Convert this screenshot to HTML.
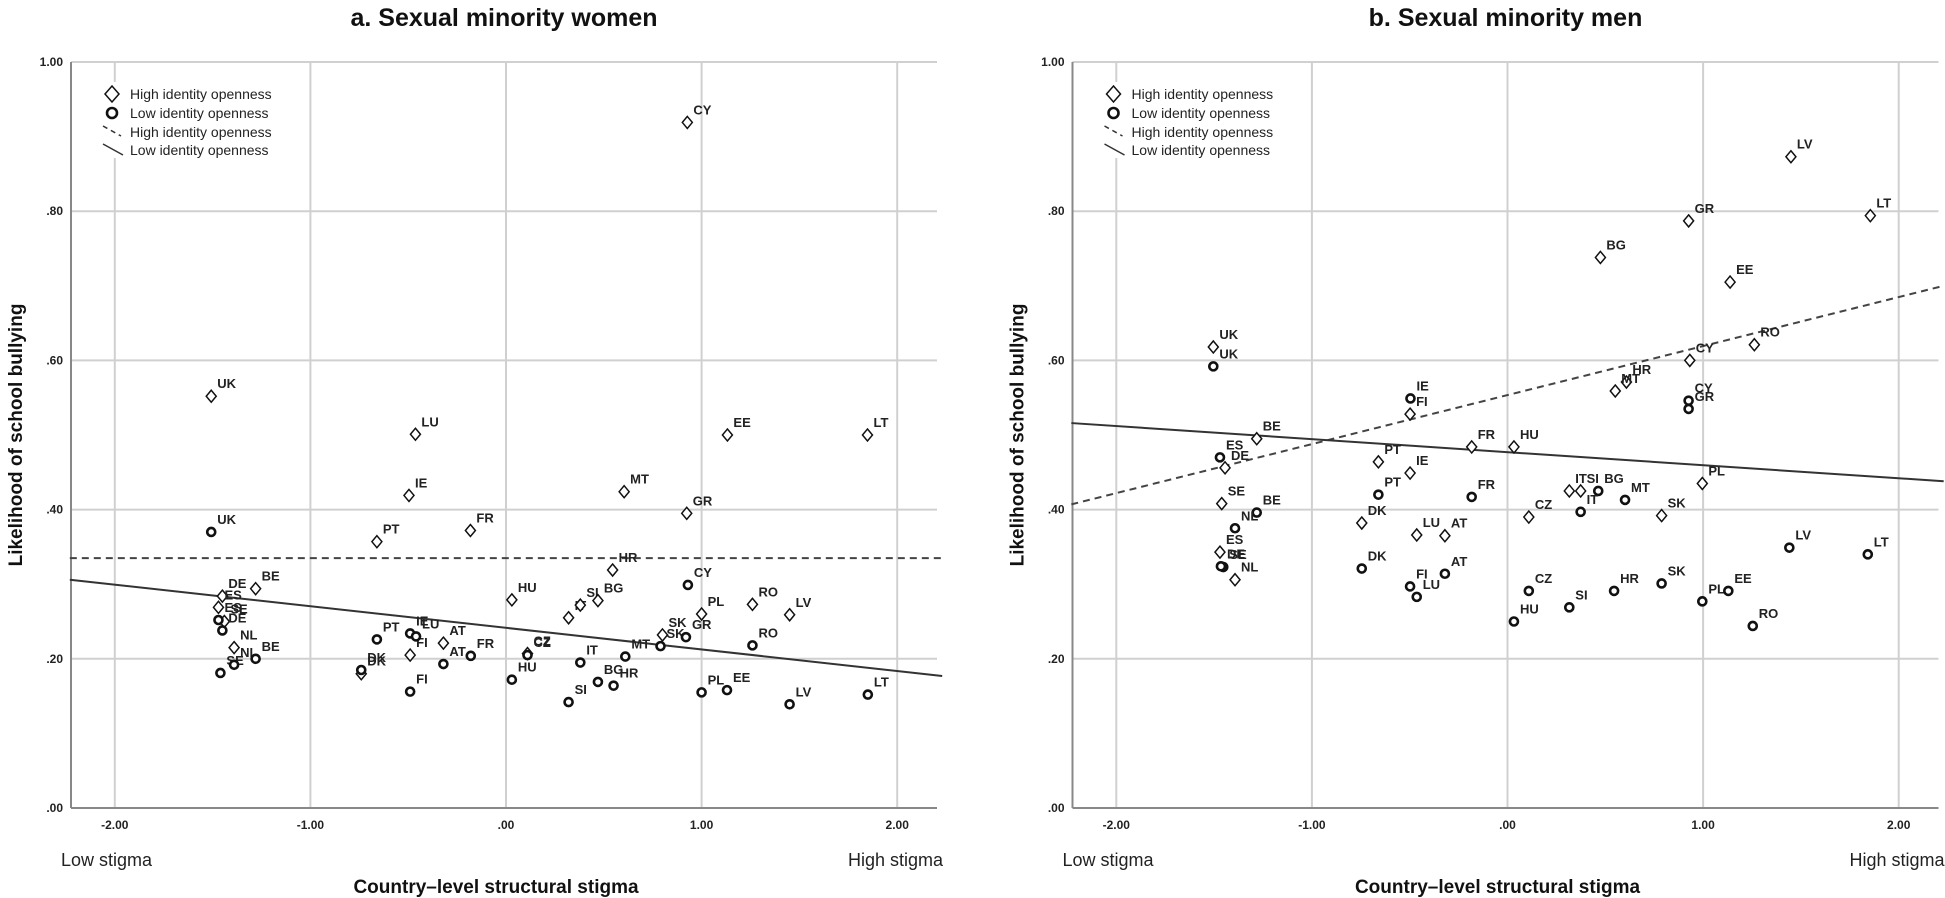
<!DOCTYPE html>
<html><head><meta charset="utf-8">
<style>
html,body{margin:0;padding:0;background:#fff;}
svg{display:block;font-family:"Liberation Sans",Arial,sans-serif;}
</style></head>
<body>
<svg id="chart" width="1945" height="898" viewBox="0 0 1945 898" xmlns="http://www.w3.org/2000/svg"></svg>
<script>
// ---- Data: panel a (women) ----
const womenHighCountries = ["UK","DE","BE","ES","SE","NL","PT","IE","LU","DK","FI","AT","FR","HU","CZ","IT","SI","BG","HR","MT","SK","CY","GR","PL","EE","RO","LV","LT"];
const womenHighStigma = [-1.507,-1.45,-1.28,-1.47,-1.44,-1.39,-0.66,-0.496,-0.463,-0.74,-0.49,-0.32,-0.182,0.03,0.11,0.32,0.38,0.47,0.545,0.604,0.80,0.927,0.924,1.0,1.132,1.26,1.45,1.848];
const womenHighValues = [0.552,0.284,0.294,0.269,0.250,0.215,0.357,0.419,0.501,0.180,0.205,0.221,0.372,0.279,0.207,0.255,0.272,0.278,0.319,0.424,0.232,0.919,0.395,0.260,0.500,0.273,0.259,0.500];
const womenLowCountries = ["UK","ES","DE","SE","NL","BE","PT","IE","LU","DK","FI","AT","FR","HU","CZ","IT","SI","BG","HR","MT","SK","CY","GR","PL","EE","RO","LV","LT"];
const womenLowStigma = [-1.507,-1.47,-1.45,-1.46,-1.39,-1.28,-0.66,-0.49,-0.46,-0.74,-0.49,-0.32,-0.18,0.03,0.11,0.38,0.32,0.47,0.55,0.61,0.79,0.93,0.92,1.0,1.13,1.26,1.45,1.85];
const womenLowValues = [0.370,0.252,0.238,0.181,0.192,0.200,0.226,0.234,0.230,0.185,0.156,0.193,0.204,0.172,0.205,0.195,0.142,0.169,0.164,0.203,0.217,0.299,0.229,0.155,0.158,0.218,0.139,0.152];
const womenHighFit = [0.335,0.335];   // at x = -2.23 and 2.23
const womenLowFit = [0.306,0.177];
// ---- Data: panel b (men) ----
const menHighCountries = ["UK","BE","DE","SE","ES","NL","PT","IE","FI","FR","DK","LU","AT","HU","IT","SI","CZ","SK","PL","HR","MT","BG","GR","CY","EE","RO","LV","LT"];
const menHighStigma = [-1.504,-1.282,-1.444,-1.461,-1.470,-1.393,-0.66,-0.498,-0.498,-0.183,-0.745,-0.464,-0.32,0.033,0.316,0.374,0.109,0.788,0.996,0.608,0.551,0.475,0.926,0.932,1.138,1.262,1.449,1.855];
const menHighValues = [0.618,0.495,0.456,0.408,0.343,0.306,0.464,0.449,0.528,0.484,0.382,0.366,0.365,0.484,0.425,0.425,0.390,0.392,0.435,0.571,0.559,0.738,0.787,0.600,0.705,0.621,0.873,0.794];
const menLowCountries = ["UK","ES","BE","NL","SE","DE","PT","FR","DK","AT","FI","LU","IE","CY","GR","BG","MT","IT","CZ","HU","SI","HR","SK","PL","EE","RO","LV","LT"];
const menLowStigma = [-1.504,-1.470,-1.282,-1.393,-1.453,-1.465,-0.66,-0.183,-0.745,-0.32,-0.498,-0.464,-0.496,0.926,0.926,0.464,0.601,0.374,0.109,0.033,0.316,0.545,0.788,0.996,1.129,1.254,1.441,1.842];
const menLowValues = [0.592,0.470,0.396,0.375,0.323,0.324,0.420,0.417,0.321,0.314,0.297,0.283,0.549,0.546,0.535,0.425,0.413,0.397,0.291,0.250,0.269,0.291,0.301,0.277,0.291,0.244,0.349,0.340];
const menHighFit = [0.407,0.700];
const menLowFit = [0.516,0.438];
const xTicks = [-2,-1,0,1,2];
const xTickLabels = ["-2.00","-1.00",".00","1.00","2.00"];
const yTicks = [0,0.2,0.4,0.6,0.8,1.0];
const yTickLabels = [".00",".20",".40",".60",".80","1.00"];

const NS="http://www.w3.org/2000/svg";
const svg=document.getElementById('chart');
function mk(tag,attrs,parent,txt){const e=document.createElementNS(NS,tag);for(const k in attrs)e.setAttribute(k,attrs[k]);if(txt!==undefined)e.textContent=txt;(parent||svg).appendChild(e);return e;}

function panel(offset,title,hc,hx,hy,lc,lx,ly,hFit,lFit,key){
  const g=mk('g',{});
  
  
  const x0=71+offset, x1=937+offset, yTop=62, yBot=808;
  const sx=v=>506+offset+v*195.6;
  const sy=v=>808-v*746;
  const t=mk('text',{x:(x0+x1)/2,y:26,'text-anchor':'middle','font-size':25,'font-weight':'bold',fill:'#111'},g,title);
  
  
  // gridlines
  yTicks.forEach((v,i)=>{
    if(v>0){const l=mk('line',{x1:x0,x2:x1,y1:sy(v),y2:sy(v),stroke:'#d0d0d0','stroke-width':2},g);
      
      }
    const tl=mk('text',{x:x0-8,y:sy(v)+4,'text-anchor':'end','font-size':12,'font-weight':'bold',fill:'#222'},g,yTickLabels[i]);
    
    
  });
  xTicks.forEach((v,i)=>{
    const l=mk('line',{x1:sx(v),x2:sx(v),y1:yTop,y2:yBot,stroke:'#d0d0d0','stroke-width':2},g);
    
    
    const tl=mk('text',{x:sx(v),y:829,'text-anchor':'middle','font-size':12,'font-weight':'bold',fill:'#222'},g,xTickLabels[i]);
    
    
  });
  const ya=mk('line',{x1:x0,x2:x0,y1:yTop,y2:yBot,stroke:'#888','stroke-width':2},g);
  
  
  const xa=mk('line',{x1:x0,x2:x1,y1:yBot,y2:yBot,stroke:'#888','stroke-width':2},g);
  
  
  // axis titles
  const yt=mk('text',{x:0,y:0,transform:`translate(${offset+22},435) rotate(-90)`,'text-anchor':'middle','font-size':19,'font-weight':'bold',fill:'#111'},g,'Likelihood of school bullying');
  
  
  const xt=mk('text',{x:(x0+x1)/2-8,y:893,'text-anchor':'middle','font-size':19,'font-weight':'bold',fill:'#111'},g,'Country\u2013level structural stigma');
  
  
  const lo=mk('text',{x:61+offset,y:866,'font-size':18,fill:'#222'},g,'Low stigma');
  
  
  const hi=mk('text',{x:Math.min(943+offset,1945),y:866,'text-anchor':'end','font-size':18,fill:'#222'},g,'High stigma');
  
  
  // fit lines
  const fd=mk('line',{x1:sx(-2.23),x2:sx(2.23),y1:sy(hFit[0]),y2:sy(hFit[1]),stroke:'#444','stroke-width':2,'stroke-dasharray':'7,5'},g);
  
  
  const fs=mk('line',{x1:sx(-2.23),x2:sx(2.23),y1:sy(lFit[0]),y2:sy(lFit[1]),stroke:'#333','stroke-width':2},g);
  
  
  // points
  hc.forEach((c,i)=>{
    const px=sx(hx[i]),py=sy(hy[i]);
    const d=mk('polygon',{points:`${px},${py-6} ${px+5},${py} ${px},${py+6} ${px-5},${py}`,fill:'#fff',stroke:'#111','stroke-width':1.5},g);
    
    
    const tl=mk('text',{x:px+6,y:py-8,'font-size':13,'font-weight':'bold',fill:'#222'},g,c);
    
    
  });
  lc.forEach((c,i)=>{
    const px=sx(lx[i]),py=sy(ly[i]);
    const d=mk('circle',{cx:px,cy:py,r:4,fill:'#fff',stroke:'#111','stroke-width':2.6},g);
    
    
    const tl=mk('text',{x:px+6,y:py-8,'font-size':13,'font-weight':'bold',fill:'#222'},g,c);
    
    
  });
  // legend
  const lg=mk('g',{},g);
  
  
  const lx0=112+offset;
  const rows=[94,113,132,150];
  mk('rect',{x:lx0-14,y:82,width:180,height:76,fill:'#fff'},lg);
  const ld=mk('polygon',{points:`${lx0},${rows[0]-8} ${lx0+7},${rows[0]} ${lx0},${rows[0]+8} ${lx0-7},${rows[0]}`,fill:'#fff',stroke:'#111','stroke-width':1.5},lg);
  
  
  const lcir=mk('circle',{cx:lx0,cy:rows[1],r:5,fill:'#fff',stroke:'#111','stroke-width':2.6},lg);
  
  
  const ldash=mk('line',{x1:lx0-9,y1:rows[2]-6,x2:lx0+9,y2:rows[2]+4,stroke:'#333','stroke-width':1.5,'stroke-dasharray':'5,4'},lg);
  
  
  const lsol=mk('line',{x1:lx0-9,y1:rows[3]-6,x2:lx0+11,y2:rows[3]+5,stroke:'#333','stroke-width':1.5},lg);
  
  
  ['High identity openness','Low identity openness','High identity openness','Low identity openness'].forEach((s,i)=>{
    const e=mk('text',{x:lx0+18,y:rows[i]+5,'font-size':14,fill:'#222'},lg,s);
    
    
  });
}
panel(0,'a. Sexual minority women',womenHighCountries,womenHighStigma,womenHighValues,womenLowCountries,womenLowStigma,womenLowValues,womenHighFit,womenLowFit,'women');
panel(1001.5,'b. Sexual minority men',menHighCountries,menHighStigma,menHighValues,menLowCountries,menLowStigma,menLowValues,menHighFit,menLowFit,'men');
</script>
</body></html>
